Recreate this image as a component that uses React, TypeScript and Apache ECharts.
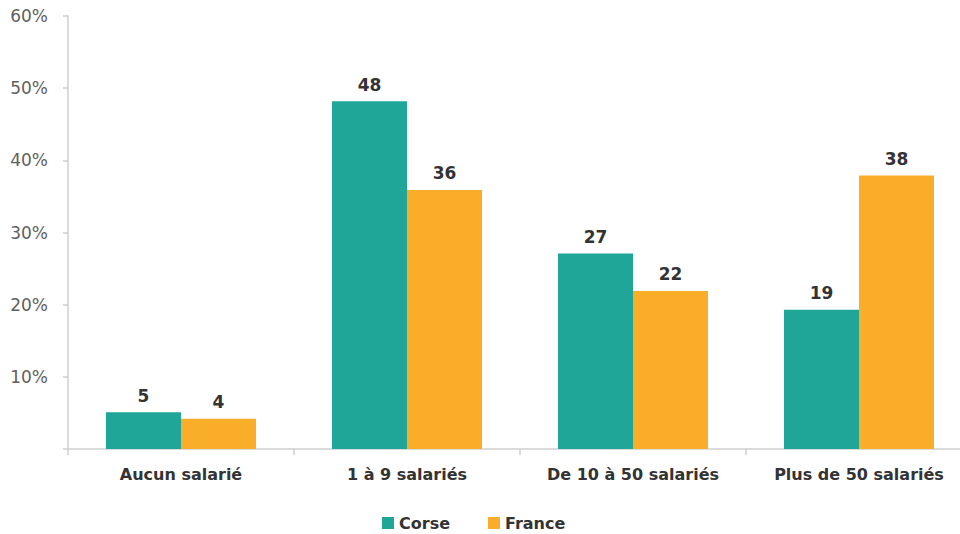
import React, { useEffect, useRef } from "react";
import * as echarts from "echarts";

const categories = ["Aucun salarié", "1 à 9 salariés", "De 10 à 50 salariés", "Plus de 50 salariés"];
const corse = [5.1, 48.2, 27.1, 19.3];
const france = [4.2, 35.9, 21.9, 37.9];
const yTicks = [0, 10, 20, 30, 40, 50, 60];

const FONT = "'DejaVu Sans', sans-serif";

export default function App() {
  const ref = useRef<HTMLDivElement>(null);
  useEffect(() => {
    if (!ref.current) return;
    const chart = echarts.init(ref.current, null, { renderer: "svg" });
    const labelCfg = {
      show: true,
      position: "top",
      distance: 8,
      formatter: (p: any) => String(Math.round(p.value)),
      fontFamily: FONT,
      fontWeight: "bold",
      fontSize: 17,
      color: "#333333",
    };
    chart.setOption({
      animation: false,
      textStyle: { fontFamily: FONT },
      grid: { left: 68, top: 16, width: 904, height: 433 },
      legend: {
        top: 510,
        left: 377,
        itemWidth: 12,
        itemHeight: 12,
        itemGap: 38,
        icon: "rect",
        textStyle: { fontFamily: FONT, fontWeight: "bold", fontSize: 16, color: "#333333" },
        data: ["Corse", "France"],
      },
      xAxis: {
        type: "category",
        data: categories,
        axisLine: { lineStyle: { color: "#cfcfcf", width: 1.5 } },
        axisTick: { show: true, length: 6, lineStyle: { color: "#cfcfcf", width: 1.5 } },
        axisLabel: { fontFamily: FONT, fontWeight: "bold", fontSize: 16, color: "#333333", margin: 17 },
      },
      yAxis: {
        type: "value",
        min: yTicks[0],
        max: yTicks[yTicks.length - 1],
        interval: 10,
        splitLine: { show: false },
        axisLine: { show: true, lineStyle: { color: "#cfcfcf", width: 1.5 } },
        axisTick: { show: true, length: 5, lineStyle: { color: "#cfcfcf", width: 1.5 } },
        axisLabel: {
          fontFamily: FONT,
          fontSize: 17,
          color: "#5f5f5f",
          margin: 20,
          formatter: (v: number) => (v === 0 ? "" : v + "%"),
        },
      },
      series: [
        {
          name: "Corse",
          type: "bar",
          data: corse,
          barWidth: 75,
          barGap: "0%",
          itemStyle: { color: "#1fa698" },
          label: labelCfg,
        },
        {
          name: "France",
          type: "bar",
          data: france,
          barWidth: 75,
          barGap: "0%",
          itemStyle: { color: "#f9ad29" },
          label: labelCfg,
        },
      ],
    });
    return () => chart.dispose();
  }, []);
  return (
    <div style={{ width: 960, height: 534, position: "absolute", left: 0, top: 0, overflow: "hidden" }}>
      <div ref={ref} style={{ width: 1000, height: 534 }} />
    </div>
  );
}
